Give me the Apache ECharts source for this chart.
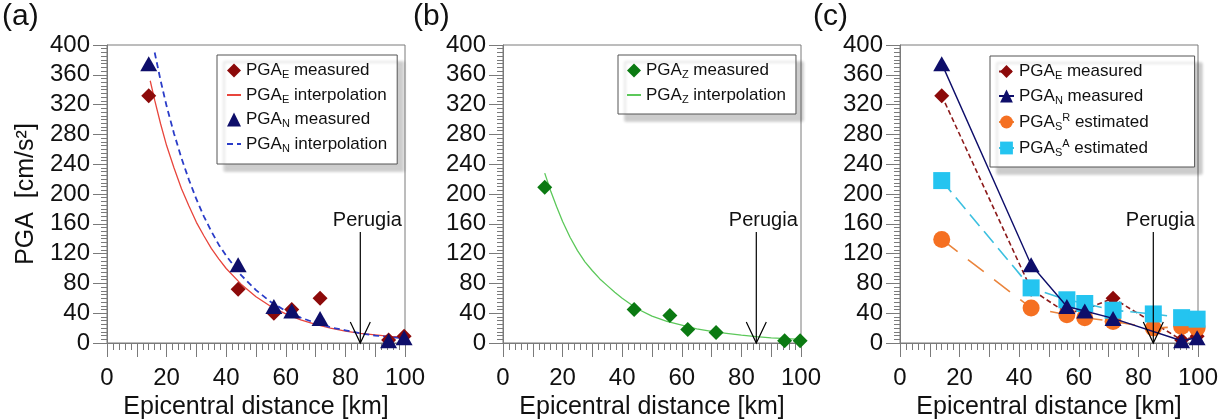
<!DOCTYPE html>
<html>
<head>
<meta charset="utf-8">
<script src="https://cdn.jsdelivr.net/npm/echarts@6/dist/echarts.min.js"></script>
<style>
html,body{margin:0;padding:0;background:#fff;}
#chart{width:1226px;height:419px;}
</style>
</head>
<body>
<div id="chart"></div>
<script>
// ---- data ----
const distKm = [14, 44, 56, 62, 71.5, 94.5, 99.7];
const pgaE = [332, 72, 40, 45, 60, 4, 9];
const pgaN = [375, 105, 49, 43, 33, 3, 7];
const pgaZ = [209, 45, 37, 18, 14, 3, 3];
const distEst = [14, 44, 56, 62, 71.5, 85, 94.5, 99.7];
const pgaSR = [139, 47, 38, 34, 29, 20, 22, 20];
const pgaSA = [218, 74, 58, 53, 44, 39, 34, 32];

const interpEx = [14.5, 16, 18, 20, 22.5, 25, 27.5, 30, 32.5, 35, 37.5, 40, 45, 50, 55, 60, 65, 70, 75, 80, 85, 90, 95, 100];
const interpEy = [352, 326, 294, 265, 235, 207, 184, 162, 144, 127, 113, 100, 79, 62, 49, 39, 31, 25, 20, 16, 13, 11, 9, 8];
const interpNx = [16, 18, 20, 22.5, 25, 27.5, 30, 32.5, 35, 37.5, 40, 45, 50, 55, 60, 65, 70, 75, 80, 85, 90, 95, 100];
const interpNy = [390, 352, 318, 281, 248, 219, 193, 170, 150, 132, 117, 91, 71, 55, 43, 34, 27, 21, 17, 13, 10, 8, 6];
const interpZx = [14, 16, 18, 20, 22.5, 25, 27.5, 30, 32.5, 35, 37.5, 40, 45, 50, 55, 60, 65, 70, 75, 80, 85, 90, 95, 100];
const interpZy = [228, 204, 183, 163, 142, 124, 109, 97, 86, 77, 68, 60, 46, 36, 29, 24, 19, 15.5, 13, 10.5, 8.5, 7, 6, 5];

const xTicks = {min: 0, max: 100, interval: 10};
const yTicks = {min: 0, max: 400, interval: 40};
const perugiaX = 85;
const perugiaTop = 149;
const panelLabels = ['(a)', '(b)', '(c)'];
const xTitle = 'Epicentral distance [km]';
const yTitle = 'PGA  [cm/s\u00B2]';

// ---- helpers ----
const zip = (xs, ys) => xs.map((x, i) => [x, ys[i]]);
const FONT = '"Liberation Sans", Arial, sans-serif';
const AX = '#7a7a7a';
const C = {
  darkRed: '#8c0a0a', navy: '#0e0e6a', red: '#e8453c', blue: '#2a3cc8',
  dGreen: '#0b7a12', lGreen: '#5cc85a', orange: '#f57022', orangeLine: '#ea843c',
  cyan: '#24c4f0', cyanLine: '#3cc0e0', eLine: '#8c1a1a'
};

const grids = [107, 503, 900].map(l => ({left: l, top: 45, width: 298, height: 298,
  containLabel: false, outerBoundsMode: 'none',
  show: true, borderColor: AX, borderWidth: 1, backgroundColor: 'transparent'}));

const xAxes = [0, 1, 2].map(i => ({
  gridIndex: i, type: 'value', min: xTicks.min, max: xTicks.max, interval: xTicks.interval,
  name: xTitle, nameLocation: 'middle', nameGap: 48,
  nameTextStyle: {fontSize: 25, color: '#111', fontFamily: FONT},
  axisLine: {show: true, onZero: false, lineStyle: {color: AX, width: 1}},
  axisTick: {show: true, inside: false, length: 14, lineStyle: {color: AX}},
  minorTick: {show: true, splitNumber: 5, length: 7, lineStyle: {color: AX}},
  splitLine: {show: false}, minorSplitLine: {show: false},
  axisLabel: {fontSize: 24, color: '#111', margin: 23, fontFamily: FONT,
    formatter: v => (v % 20 === 0 ? String(v) : '')}
}));

const yAxes = [0, 1, 2].map(i => ({
  gridIndex: i, type: 'value', min: yTicks.min, max: yTicks.max, interval: yTicks.interval,
  name: i === 0 ? yTitle : '', nameLocation: 'middle', nameGap: 68, nameRotate: 90,
  nameTextStyle: {fontSize: 25, color: '#111', fontFamily: FONT},
  axisLine: {show: true, onZero: false, lineStyle: {color: AX, width: 1}},
  axisTick: {show: true, inside: false, length: 14, lineStyle: {color: AX}},
  minorTick: {show: true, splitNumber: 8, length: 6, lineStyle: {color: AX}},
  splitLine: {show: false}, minorSplitLine: {show: false},
  axisLabel: {fontSize: 24, color: '#111', margin: 17, fontFamily: FONT}
}));

function perugiaSeries(i) {
  return {
    type: 'custom', xAxisIndex: i, yAxisIndex: i, silent: true, clip: false, z: 10,
    data: [[perugiaX, perugiaTop]],
    renderItem: (params, api) => {
      const top = api.coord([api.value(0), api.value(1)]);
      const bot = api.coord([api.value(0), 0]);
      return {type: 'group', children: [
        {type: 'line', shape: {x1: top[0], y1: top[1], x2: bot[0], y2: bot[1]},
          style: {stroke: '#000', lineWidth: 1.2}},
        {type: 'polyline', shape: {points: [[bot[0] - 10, bot[1] - 21], [bot[0], bot[1]], [bot[0] + 10, bot[1] - 21]]},
          style: {stroke: '#000', fill: null, lineWidth: 1.2}},
        {type: 'text', x: top[0] + 7, y: top[1] - 2,
          style: {text: 'Perugia', font: '20px ' + FONT, fill: '#111', align: 'center', verticalAlign: 'bottom'}}
      ]};
    }
  };
}

const series = [
  // panel (a)
  {type: 'line', name: 'PGA_E interpolation', xAxisIndex: 0, yAxisIndex: 0, data: zip(interpEx, interpEy),
    symbol: 'none', smooth: false, lineStyle: {color: C.red, width: 1.3}, itemStyle: {color: C.red}, z: 2},
  {type: 'line', name: 'PGA_N interpolation', xAxisIndex: 0, yAxisIndex: 0, data: zip(interpNx, interpNy),
    symbol: 'none', smooth: false, lineStyle: {color: C.blue, width: 1.8, type: [6, 4]}, itemStyle: {color: C.blue}, z: 2},
  {type: 'scatter', name: 'PGA_E measured', xAxisIndex: 0, yAxisIndex: 0, data: zip(distKm, pgaE),
    symbol: 'diamond', symbolSize: 15, itemStyle: {color: C.darkRed, opacity: 1}, z: 3},
  {type: 'scatter', name: 'PGA_N measured', xAxisIndex: 0, yAxisIndex: 0, data: zip(distKm, pgaN),
    symbol: 'triangle', symbolSize: [17, 15], itemStyle: {color: C.navy, opacity: 1}, z: 4},
  perugiaSeries(0),
  // panel (b)
  {type: 'line', name: 'PGA_Z interpolation', xAxisIndex: 1, yAxisIndex: 1, data: zip(interpZx, interpZy),
    symbol: 'none', smooth: false, lineStyle: {color: C.lGreen, width: 1.3}, itemStyle: {color: C.lGreen}, z: 2},
  {type: 'scatter', name: 'PGA_Z measured', xAxisIndex: 1, yAxisIndex: 1, data: zip(distKm, pgaZ),
    symbol: 'diamond', symbolSize: 15, itemStyle: {color: C.dGreen, opacity: 1}, z: 3},
  perugiaSeries(1),
  // panel (c)
  {type: 'line', name: 'PGA_E measured (c)', xAxisIndex: 2, yAxisIndex: 2, data: zip(distKm, pgaE),
    symbol: 'diamond', symbolSize: 15, showSymbol: true, lineStyle: {color: C.eLine, width: 1.6, type: [5, 3]},
    itemStyle: {color: C.darkRed}, z: 2},
  {type: 'line', name: 'PGA_S^R estimated', xAxisIndex: 2, yAxisIndex: 2, data: zip(distEst, pgaSR),
    symbol: 'circle', symbolSize: 17, showSymbol: true, lineStyle: {color: C.orangeLine, width: 1.6, type: [20, 13]},
    itemStyle: {color: C.orange}, z: 3},
  {type: 'line', name: 'PGA_S^A estimated', xAxisIndex: 2, yAxisIndex: 2, data: zip(distEst, pgaSA),
    symbol: 'rect', symbolSize: 17, showSymbol: true, lineStyle: {color: C.cyanLine, width: 1.6, type: [15, 7]},
    itemStyle: {color: C.cyan}, z: 4},
  {type: 'line', name: 'PGA_N measured (c)', xAxisIndex: 2, yAxisIndex: 2, data: zip(distKm, pgaN),
    symbol: 'triangle', symbolSize: [17, 15], showSymbol: true, lineStyle: {color: C.navy, width: 1.4},
    itemStyle: {color: C.navy}, z: 5},
  perugiaSeries(2)
];

const rich = {
  n: {fontSize: 17, lineHeight: 20, color: '#111', fontFamily: FONT},
  sub: {fontSize: 11, lineHeight: 10, verticalAlign: 'bottom', color: '#111', fontFamily: FONT},
  sup: {fontSize: 11, lineHeight: 10, verticalAlign: 'top', color: '#111', fontFamily: FONT}
};
function legendFmt(name) {
  const clean = name.replace(' (c)', '');
  const m = clean.match(/^PGA_(\w)(?:\^(\w))?( .*)$/);
  if (!m) return '{n|' + clean + '}';
  return '{n|PGA}{sub|' + m[1] + '}' + (m[2] ? '{sup|' + m[2] + '}' : '') + '{n|' + m[3] + '}';
}
const lineOnly = name => ({name: name, itemStyle: {opacity: 0}});
const legendCommon = {
  orient: 'vertical', backgroundColor: '#fff', borderColor: '#555', borderWidth: 1,
  shadowColor: 'rgba(0,0,0,0.2)', shadowBlur: 3, shadowOffsetX: 7, shadowOffsetY: 7,
  itemWidth: 14, itemHeight: 14, itemGap: 6, selectedMode: false,
  textStyle: {fontSize: 17, color: '#111', fontFamily: FONT, rich: rich},
  formatter: legendFmt
};
const legends = [
  Object.assign({}, legendCommon, {left: 217, top: 55, padding: [7, 10, 10, 9],
    data: ['PGA_E measured', lineOnly('PGA_E interpolation'), 'PGA_N measured', lineOnly('PGA_N interpolation')]}),
  Object.assign({}, legendCommon, {left: 618, top: 55, padding: [7, 10, 9, 8],
    data: ['PGA_Z measured', lineOnly('PGA_Z interpolation')]}),
  Object.assign({}, legendCommon, {left: 990, top: 56, padding: [7, 46, 9, 8], itemHeight: 16, itemWidth: 15,
    data: ['PGA_E measured (c)', 'PGA_N measured (c)', 'PGA_S^R estimated', 'PGA_S^A estimated']})
];

const graphics = panelLabels.map((t, i) => ({
  type: 'text', left: [2, 413, 813][i], top: 2,
  style: {text: t, font: '30px ' + FONT, fill: '#111'}
}));

const chart = echarts.init(document.getElementById('chart'), null, {renderer: 'canvas'});
chart.setOption({
  animation: false,
  backgroundColor: '#fff',
  textStyle: {fontFamily: FONT},
  grid: grids, xAxis: xAxes, yAxis: yAxes,
  legend: legends, series: series, graphic: graphics
});
</script>
</body>
</html>
